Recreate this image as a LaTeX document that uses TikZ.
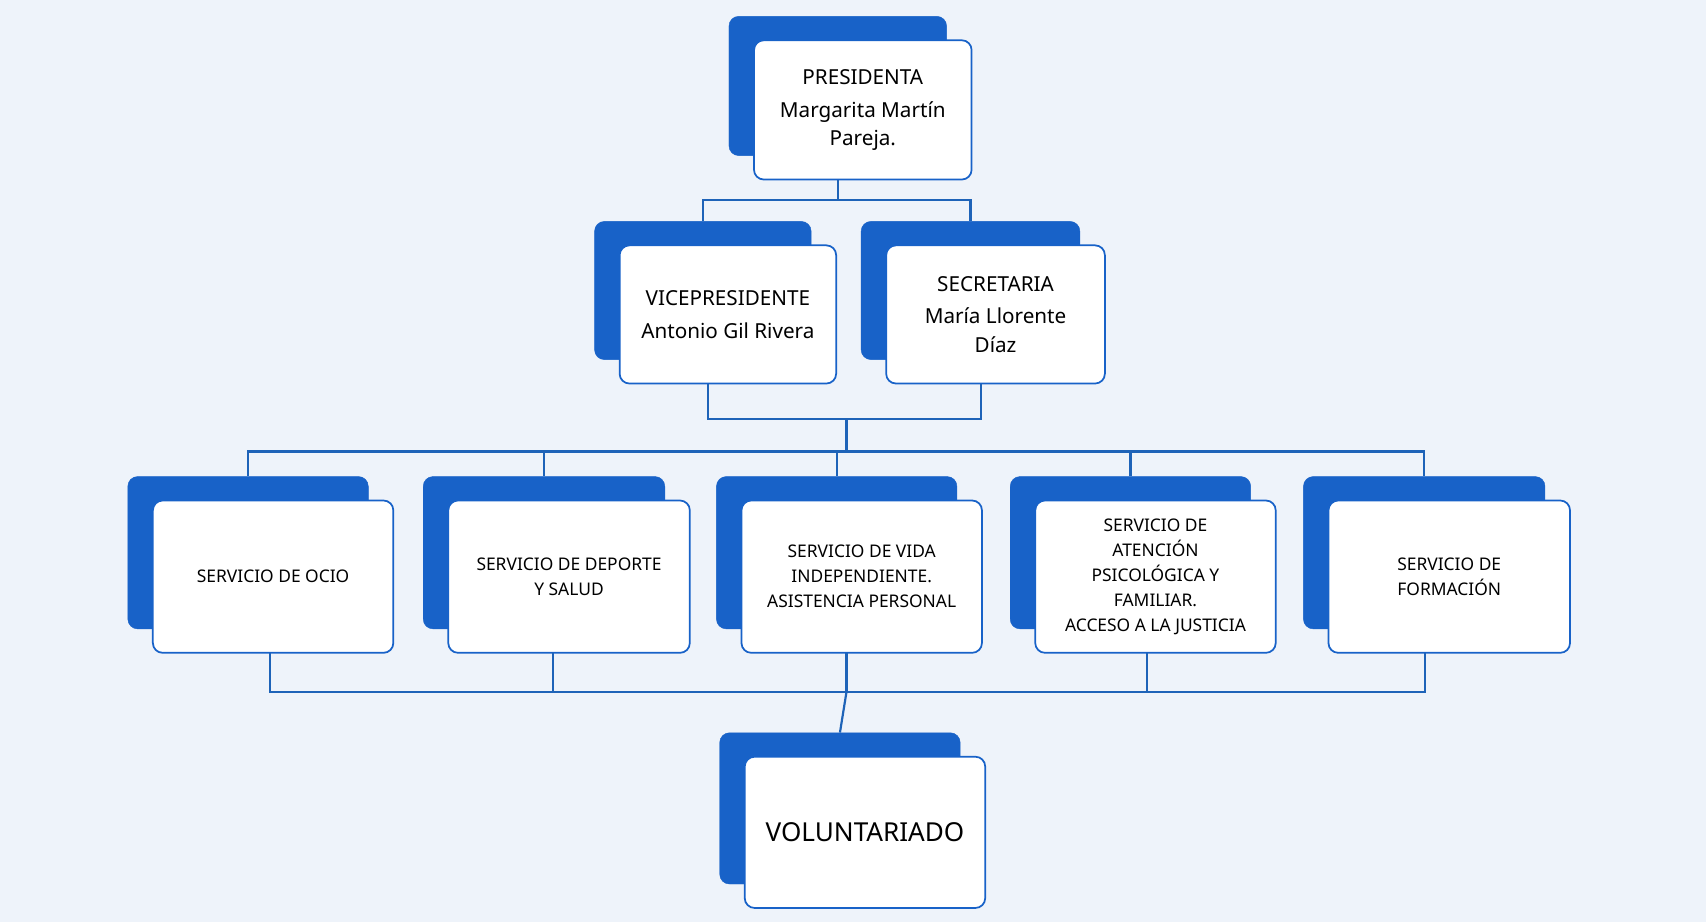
\documentclass[tikz,border=0pt]{standalone}
\usepackage{fontspec}
\setmainfont{Noto Sans}
\definecolor{bg}{HTML}{EEF3FA}
\definecolor{bl}{HTML}{1862C8}
\definecolor{ln}{HTML}{1E63B8}
\begin{document}
\begin{tikzpicture}[x=1pt,y=-1pt,
  back/.style={fill=bl,draw=bl,rounded corners=9pt,inner sep=0pt},
  front/.style={fill=white,draw=bl,line width=1.6pt,rounded corners=9pt,align=center,inner sep=4pt,text=black},
  conn/.style={draw=ln,line width=2pt}]
\fill[bg] (0,0) rectangle (1568,847);
\useasboundingbox (0,0) rectangle (1568,847);
\newcommand{\orgbox}[7]{%
  \node[back,minimum width=#4pt,minimum height=#5pt] (#1-b) at (#2-23,#3-22) {};
  \node[front,minimum width=#4pt,minimum height=#5pt,font=#6] (#1) at (#2,#3) {#7};}
\orgbox{pres}{793}{101}{200}{128}{\fontsize{19}{26}\selectfont}{PRESIDENTA\\[4pt]Margarita Martín\\Pareja.}
\orgbox{vice}{669}{289}{199}{127}{\fontsize{19}{26}\selectfont}{VICEPRESIDENTE\\[4pt]Antonio Gil Rivera}
\orgbox{secr}{915}{289}{201}{127}{\fontsize{19}{26}\selectfont}{SECRETARIA\\[4pt]María Llorente\\Díaz}
\orgbox{s1}{251}{530}{221}{140}{\fontsize{16}{23}\selectfont}{SERVICIO DE OCIO}
\orgbox{s2}{523}{530}{222}{140}{\fontsize{16}{23}\selectfont}{SERVICIO DE DEPORTE\\Y SALUD}
\orgbox{s3}{792}{530}{221}{140}{\fontsize{16}{23}\selectfont}{SERVICIO DE VIDA\\INDEPENDIENTE.\\ASISTENCIA PERSONAL}
\orgbox{s4}{1062}{530}{221}{140}{\fontsize{16}{23}\selectfont}{SERVICIO DE\\ATENCIÓN\\PSICOLÓGICA Y\\FAMILIAR.\\ACCESO A LA JUSTICIA}
\orgbox{s5}{1332}{530}{222}{140}{\fontsize{16}{23}\selectfont}{SERVICIO DE\\FORMACIÓN}
\orgbox{vol}{795}{765}{221}{139}{\fontsize{24}{30}\selectfont}{VOLUNTARIADO}
% top connectors
\coordinate (j1) at (770,184);
\coordinate (j2) at (778,385);
\coordinate (j3) at (778,415);
\coordinate (j4) at (778,636);
\draw[conn] (pres-b.south |- pres.south) -- (j1);
\draw[conn] (vice-b.north) |- (j1) -| (secr-b.north);
\draw[conn] (651,353) |- (j2) -| (902,353);
\draw[conn] (j2) -- (j3);
\foreach \n in {s1,s2,s3,s4,s5} \draw[conn] (j3) -| (\n-b.north);
\foreach \x/\n in {248/s1,508/s2,778/s3,1054/s4,1310/s5} \draw[conn] (\x,600) -- (\x,636) -- (j4);
\draw[conn] (j4) -- (vol-b.north);
\end{tikzpicture}
\end{document}
